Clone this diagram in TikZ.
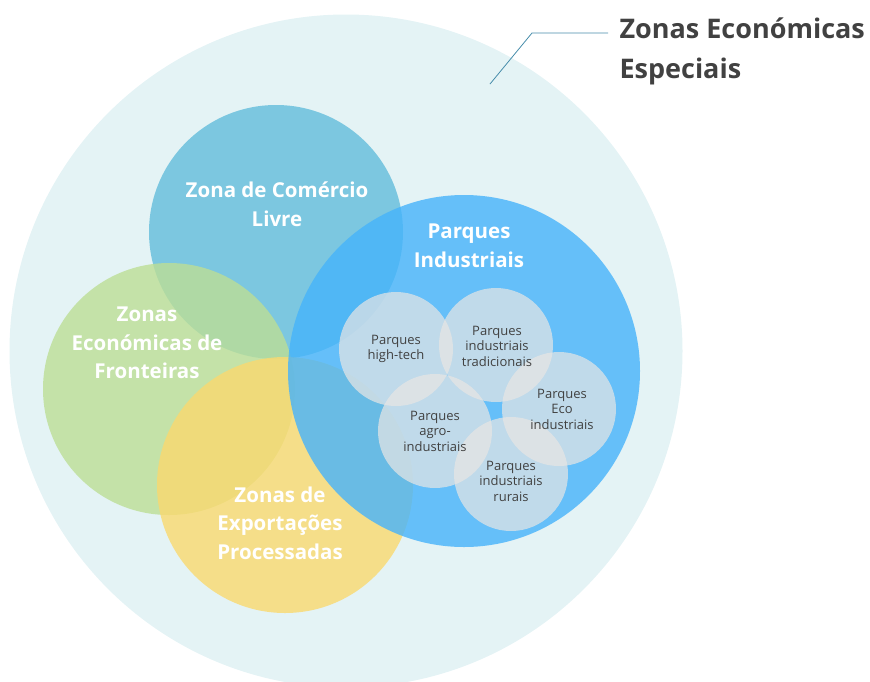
\documentclass[tikz,border=0pt]{standalone}
\usepackage{fontspec}
\setmainfont{Open Sans}
\usetikzlibrary{positioning}

\definecolor{ezbg}{RGB}{228,243,245}
\definecolor{cteal}{RGB}{98,189,219}
\definecolor{cgreen}{RGB}{188,222,149}
\definecolor{cyellow}{RGB}{250,217,111}
\definecolor{cblue}{RGB}{70,179,251}
\definecolor{cpark}{RGB}{232,230,228}
\definecolor{ctext}{RGB}{65,65,65}
\definecolor{clead}{RGB}{70,140,170}

\begin{document}
\begin{tikzpicture}[x=1pt,y=-1pt,
    zone/.style={circle, inner sep=0pt, fill opacity=0.8},
    park/.style={circle, inner sep=0pt, fill=cpark, fill opacity=0.7, minimum size=114pt},
    bigtext/.style={text=white, font=\bfseries\fontsize{20.5}{28.5}\selectfont, align=center},
    smalltext/.style={text=ctext, font=\fontsize{13}{15.5}\selectfont, align=center}]
    \useasboundingbox (0,0) rectangle (870,681);

    % outer zone
    \node[circle, inner sep=0pt, fill=ezbg, minimum size=673pt] (zee) at (346,351) {};

    % main zones
    \node[zone, fill=cteal, minimum size=254pt] (livre) at (276,232) {};
    \node[zone, fill=cgreen, minimum size=252pt] (front) at (169,389) {};
    \node[zone, fill=cyellow, minimum size=256pt] (export) at (285,485) {};
    \node[zone, fill=cblue, minimum size=352pt] (parques) at (464,371) {};

    % parks
    \node[park] (hitech) at (396,349) {};
    \node[park] (trad) at (496,345) {};
    \node[park] (eco) at (559,409) {};
    \node[park] (agro) at (435,431) {};
    \node[park] (rural) at (511,474) {};

    % labels
    \node[bigtext] (tlivre) at (277,204) {Zona de Comércio\\Livre};
    \node[bigtext] (tfront) at (147,343) {Zonas\\Económicas de\\Fronteiras};
    \node[bigtext] (texport) at (280,523) {Zonas de\\Exportações\\Processadas};
    \node[bigtext] (tparques) at (469,246) {Parques\\Industriais};

    \node[smalltext] (thitech) at (396,349) {Parques\\high-tech};
    \node[smalltext] (ttrad) at (497,346) {Parques\\industriais\\tradicionais};
    \node[smalltext] (teco) at (562,409) {Parques\\Eco\\industriais};
    \node[smalltext] (tagro) at (435,431) {Parques\\agro-\\industriais};
    \node[smalltext] (trural) at (511,481) {Parques\\industriais\\rurais};

    % title
    \node[anchor=west, text=ctext, align=left, font=\bfseries\fontsize{27}{40}\selectfont]
        (title) at (616,51) {Zonas Económicas\\Especiais};
    \coordinate (lead) at (490,84);
    \draw[clead, line width=0.8pt] (lead) -- ++(42,-51) -- ++(76,0);
\end{tikzpicture}
\end{document}
